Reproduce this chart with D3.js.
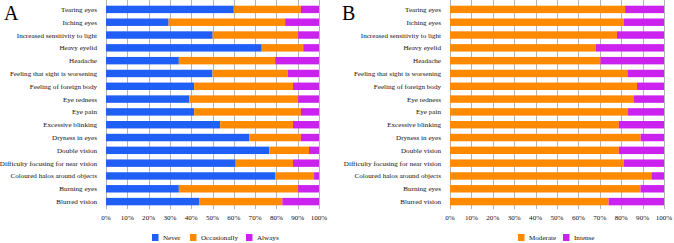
<!DOCTYPE html>
<html>
<head>
    <meta charset="utf-8">
    <title>Eye symptoms</title>
    <script type="text/javascript" src="https://cdn.jsdelivr.net/npm/d3@7"></script>
</head>
<body style="margin:0;background:#fff;">

<style>
.lbl { font-family: "Liberation Serif", "Times New Roman", serif; font-size: 7.1px; fill: #111; }
.grid line { stroke: #b4b4b4; stroke-width: 1; }
.panel { font-family: "Liberation Serif", "Times New Roman", serif; font-size: 20px; fill: #000; }
</style>

<script type="text/javascript">
    var width = 674,
        height = 243;

    var symptoms = ["Tearing eyes", "Itching eyes", "Increased sensitivity to light", "Heavy eyelid",
        "Headache", "Feeling that sight is worsening", "Feeling of foreign body", "Eye redness",
        "Eye pain", "Excessive blinking", "Dryness in eyes", "Double vision",
        "Difficulty focusing for near vision", "Coloured halos around objects", "Burning eyes", "Blurred vision"];

    // panel A (frequency), percent
    var never        = [60, 29.4, 50.1, 73.1, 34.2, 50, 41.4, 39.1, 41.4, 53.6, 67.2, 76.7, 60.9, 79.4, 34.2, 43.9];
    var occasionally = [31.5, 54.7, 40.1, 19.5, 45.2, 35.3, 46.4, 51.1, 50.1, 34.2, 24.3, 18.6, 26.9, 18.3, 56, 38.9];
    var always       = [8.5, 15.9, 9.8, 7.4, 20.6, 14.7, 12.2, 9.8, 8.5, 12.2, 8.5, 4.7, 12.2, 2.3, 9.8, 17.2];

    // panel B (intensity), percent
    var moderate = [81.8, 81.1, 78, 68.2, 70.3, 82.9, 87.4, 86, 83.2, 78.9, 89.1, 78.9, 81.2, 94.1, 89, 74.1];
    var intense  = [18.2, 18.9, 22, 31.8, 29.7, 17.1, 12.6, 14, 16.8, 21.1, 10.9, 21.1, 18.8, 5.9, 11, 25.9];

    var ticks = [0, 10, 20, 30, 40, 50, 60, 70, 80, 90, 100];

    var colors = {Never: "#1f5ff5", Occasionally: "#ff8a00", Always: "#cc22f0",
                  Moderate: "#ff8a00", Intense: "#cc22f0"};

    var svg = d3.select("body").append("svg")
        .attr("width", width)
        .attr("height", height);

    drawPanel({
        letter: "A", letterX: 4, x0: 106, x1: 319,
        keys: ["Never", "Occasionally", "Always"],
        values: [never, occasionally, always],
        legendX: [152, 190, 246]
    });

    drawPanel({
        letter: "B", letterX: 342, x0: 450, x1: 664,
        keys: ["Moderate", "Intense"],
        values: [moderate, intense],
        legendX: [518, 563]
    });

    function drawPanel(p){
        var x = d3.scaleLinear().domain([0, 100]).range([p.x0, p.x1]);
        var y = d3.scaleBand().domain(symptoms).range([3, 208])
            .paddingInner(0.42).paddingOuter(0.21);

        var g = svg.append("g");

        // vertical grid
        g.append("g").attr("class", "grid")
            .selectAll("line").data(ticks).enter().append("line")
            .attr("x1", function(d){ return Math.round(x(d)) + 0.5; })
            .attr("x2", function(d){ return Math.round(x(d)) + 0.5; })
            .attr("y1", 0)
            .attr("y2", 209);

        // stacked bars
        var rows = symptoms.map(function(s, i){
            var r = {name: s};
            p.keys.forEach(function(k, j){ r[k] = p.values[j][i]; });
            return r;
        });
        var stack = d3.stack().keys(p.keys)(rows);

        g.selectAll("g.layer").data(stack).enter().append("g")
            .attr("class", "layer")
            .attr("fill", function(d){ return colors[d.key]; })
            .selectAll("rect").data(function(d){ return d; }).enter().append("rect")
            .attr("x", function(d){ return x(d[0]); })
            .attr("width", function(d){ return x(Math.min(d[1], 100)) - x(d[0]); })
            .attr("y", function(d){ return y(d.data.name); })
            .attr("height", y.bandwidth());

        // category labels
        g.selectAll("text.cat").data(symptoms).enter().append("text")
            .attr("class", "lbl cat")
            .attr("x", p.x0 - 9)
            .attr("y", function(d){ return y(d) + y.bandwidth() / 2; })
            .attr("dy", "0.35em")
            .attr("text-anchor", "end")
            .text(function(d){ return d; });

        // x tick labels
        g.selectAll("text.tick").data(ticks).enter().append("text")
            .attr("class", "lbl tick")
            .attr("x", function(d){ return x(d); })
            .attr("y", 220)
            .attr("text-anchor", "middle")
            .text(function(d){ return d + "%"; });

        // panel letter
        g.append("text").attr("class", "panel")
            .attr("x", p.letterX).attr("y", 20)
            .text(p.letter);

        // legend
        var lg = g.selectAll("g.legend").data(p.keys).enter().append("g")
            .attr("class", "legend")
            .attr("transform", function(d, i){ return "translate(" + p.legendX[i] + ",234)"; });
        lg.append("rect").attr("width", 6.5).attr("height", 7)
            .attr("fill", function(d){ return colors[d]; });
        lg.append("text").attr("class", "lbl")
            .attr("x", 11).attr("y", 3.5).attr("dy", "0.35em")
            .text(function(d){ return d; });
    }
</script>

</body>
</html>
